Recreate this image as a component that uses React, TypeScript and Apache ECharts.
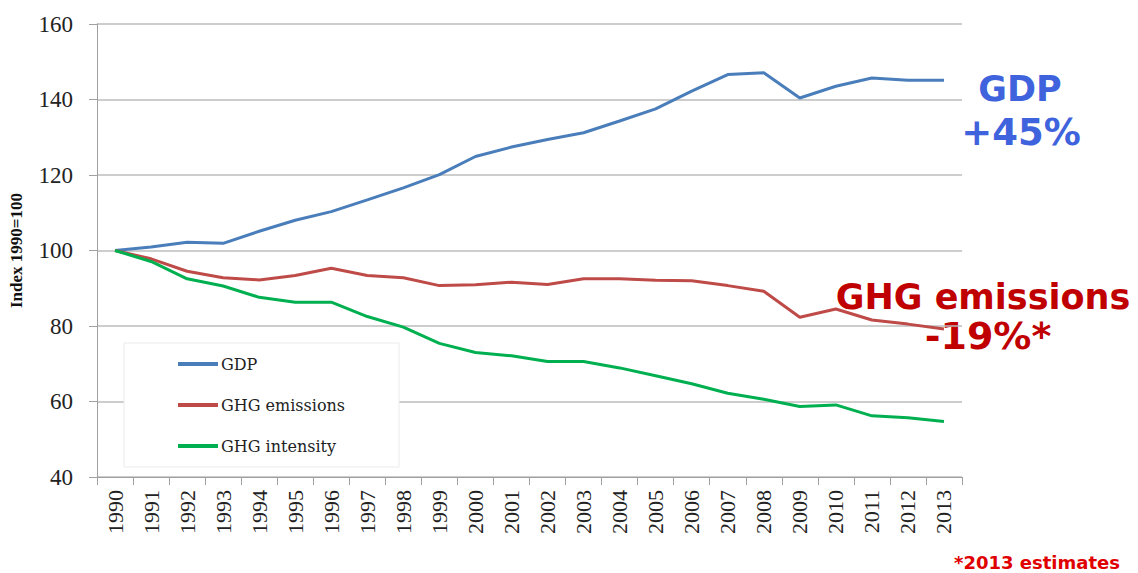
import React, { useEffect, useRef } from "react";
import * as echarts from "echarts";

const years = ["1990","1991","1992","1993","1994","1995","1996","1997","1998","1999","2000","2001","2002","2003","2004","2005","2006","2007","2008","2009","2010","2011","2012","2013"];
const gdp = [100, 100.9, 102.2, 101.9, 105.1, 108, 110.3, 113.4, 116.6, 120.1, 124.9, 127.4, 129.4, 131.2, 134.3, 137.5, 142.2, 146.6, 147.1, 140.4, 143.5, 145.7, 145.1, 145.1];
const ghgEmissions = [100, 97.8, 94.5, 92.8, 92.2, 93.4, 95.3, 93.4, 92.8, 90.7, 90.9, 91.6, 91.0, 92.5, 92.5, 92.1, 92.0, 90.7, 89.2, 82.3, 84.5, 81.6, 80.5, 79.2];
const ghgIntensity = [100, 97.1, 92.5, 90.6, 87.6, 86.3, 86.3, 82.5, 79.7, 75.4, 73.0, 72.1, 70.6, 70.6, 68.9, 66.8, 64.7, 62.2, 60.6, 58.7, 59.1, 56.2, 55.7, 54.7];
const yTicks = { min: 40, max: 160, interval: 20 };

export default function App() {
  const ref = useRef<HTMLDivElement>(null);
  useEffect(() => {
    if (!ref.current) return;
    const chart = echarts.init(ref.current, null, { renderer: "svg" });
    const serif = "Liberation Serif";
    const line = (name: string, data: number[], color: string) => ({
      name,
      type: "line",
      data,
      symbol: "none",
      smooth: false,
      lineStyle: { color, width: 3 },
      itemStyle: { color },
    });
    chart.setOption({
      animation: false,
      backgroundColor: "#fff",
      grid: { left: 97, right: 176, top: 24, bottom: 96, containLabel: false },
      xAxis: {
        type: "category",
        data: years,
        boundaryGap: true,
        axisLine: { show: true, lineStyle: { color: "#a0a0a0", width: 1 } },
        axisTick: { show: true, length: 8, alignWithLabel: false, lineStyle: { color: "#a0a0a0" } },
        axisLabel: { rotate: 90, interval: 0, margin: 13, fontFamily: serif, fontSize: 22, color: "#222" },
        splitLine: { show: false },
      },
      yAxis: {
        type: "value",
        min: yTicks.min,
        max: yTicks.max,
        interval: yTicks.interval,
        name: "Index 1990=100",
        nameLocation: "middle",
        nameGap: 72,
        nameTextStyle: { fontFamily: serif, fontSize: 17, fontWeight: "bold", color: "#111" },
        axisLine: { show: true, lineStyle: { color: "#a0a0a0", width: 1 } },
        axisTick: { show: true, length: 8, lineStyle: { color: "#a0a0a0" } },
        axisLabel: { margin: 24, fontFamily: serif, fontSize: 23, color: "#222" },
        splitLine: { show: true, lineStyle: { color: "#bdbdbd", width: 1.5 } },
      },
      legend: {
        orient: "vertical",
        left: 124,
        top: 343,
        padding: [13, 54, 13, 54],
        itemGap: 25,
        itemWidth: 40,
        itemHeight: 4,
        icon: "rect",
        backgroundColor: "#fff",
        borderColor: "#ebebeb",
        borderWidth: 1,
        textStyle: { fontFamily: "DejaVu Serif", fontSize: 16, color: "#222", padding: [0, 0, 0, -2] },
        data: ["GDP", "GHG emissions", "GHG intensity"],
      },
      series: [
        line("GDP", gdp, "#4A7EBB"),
        line("GHG emissions", ghgEmissions, "#BE4B48"),
        line("GHG intensity", ghgIntensity, "#00B050"),
      ],
      graphic: [
        { type: "text", x: 1020, y: 89, style: { text: "GDP", fontFamily: "DejaVu Sans", fontWeight: "bold", fontSize: 35, fill: "#3F63DC", textAlign: "center", textVerticalAlign: "middle" } },
        { type: "text", x: 1021, y: 132, style: { text: "+45%", fontFamily: "DejaVu Sans", fontWeight: "bold", fontSize: 37, fill: "#3F63DC", textAlign: "center", textVerticalAlign: "middle" } },
        { type: "text", x: 983, y: 297, style: { text: "GHG emissions", fontFamily: "DejaVu Sans", fontWeight: "bold", fontSize: 35, fill: "#C00000", textAlign: "center", textVerticalAlign: "middle" } },
        { type: "text", x: 988, y: 336, style: { text: "-19%*", fontFamily: "DejaVu Sans", fontWeight: "bold", fontSize: 38, fill: "#C00000", textAlign: "center", textVerticalAlign: "middle" } },
        { type: "text", x: 1037, y: 562, style: { text: "*2013 estimates", fontFamily: "DejaVu Sans", fontWeight: "bold", fontSize: 18, fill: "#E00000", textAlign: "center", textVerticalAlign: "middle" } },
      ],
    });
    return () => chart.dispose();
  }, []);
  return <div ref={ref} style={{ width: 1138, height: 573, position: "absolute", left: 0, top: 0 }} />;
}
